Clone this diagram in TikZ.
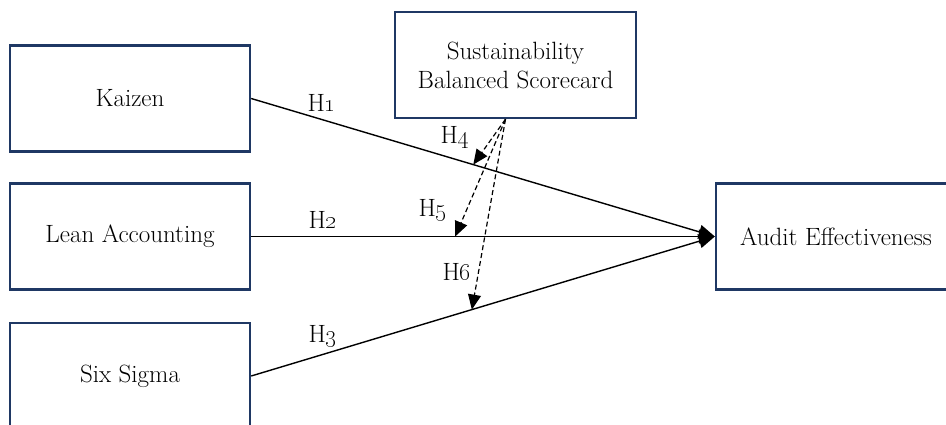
\documentclass[tikz,border=0pt]{standalone}
\usetikzlibrary{arrows.meta,calc}
\definecolor{navy}{HTML}{1F3864}
\begin{document}
\begin{tikzpicture}[x=1pt,y=-1pt,
  box/.style={draw=navy, line width=2.4pt, fill=white, minimum width=240pt, minimum height=106pt, inner sep=0pt, align=center, font=\fontsize{25}{29}\selectfont},
  link/.style={line width=1.4pt, -{Triangle[length=16pt,width=14pt]}},
  modlink/.style={line width=1.2pt, dash pattern=on 5pt off 3pt, -{Triangle[length=15pt,width=13pt]}},
  hlab/.style={inner sep=0pt, font=\fontsize{25}{29}\selectfont}]
\useasboundingbox (0,0) rectangle (946,425);
\node[box] (kai) at (130,98.5) {Kaizen};
\node[box] (lean) at (130,236.5) {Lean Accounting};
\node[box] (six) at (130,376) {Six Sigma};
\node[box, minimum width=241pt] (sbs) at (515.5,65) {Sustainability\\Balanced Scorecard};
\node[box] (ae) at (836,236.5) {Audit Effectiveness};
\draw[link] (kai.east) -- (ae.west) coordinate[pos=0.479] (m1);
\draw[link] (lean.east) -- (ae.west) coordinate[pos=0.44] (m2);
\draw[link] (six.east) -- (ae.west) coordinate[pos=0.476] (m3);
\coordinate (src) at ($(sbs.south)+(-10,0)$);
\draw[modlink] (src) -- (m1);
\draw[modlink] (src) -- (m2);
\draw[modlink] (src) -- (m3);
\node[hlab] (h1) at (322,103) {H\oldstylenums{1}};
\node[hlab] (h2) at (323,220) {H\oldstylenums{2}};
\node[hlab] (h3) at (323,336) {H\oldstylenums{3}};
\node[hlab] (h4) at (455,137) {H\oldstylenums{4}};
\node[hlab] (h5) at (433,210) {H\oldstylenums{5}};
\node[hlab] (h6) at (457,272) {H\oldstylenums{6}};
\end{tikzpicture}
\end{document}
